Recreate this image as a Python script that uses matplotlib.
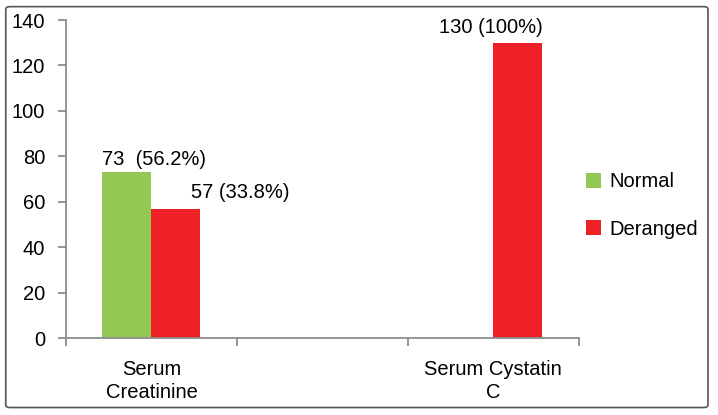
import numpy as np
import matplotlib
matplotlib.use("Agg")
import matplotlib.pyplot as plt
from matplotlib.patches import FancyBboxPatch

plt.rcParams['font.family'] = ['Liberation Sans', 'DejaVu Sans']

categories = ["Serum\nCreatinine", "", "Serum Cystatin\nC"]
normal = [73, np.nan, np.nan]
deranged = [57, np.nan, 130]
normal_labels = ["73  (56.2%)", None, None]
deranged_labels = ["57 (33.8%)", None, "130 (100%)"]
series_names = ["Normal", "Deranged"]

green = "#92C853"
red = "#EE2226"
axis_gray = "#8C8C8C"
fs = 14.5

fig = plt.figure(figsize=(7.18, 4.15), dpi=100)
ax = fig.add_axes([0.0919, 0.1855, 0.7141, 0.7663])

x = np.arange(len(categories))
w = 0.287
b1 = ax.bar(x - w / 2, normal, w, color=green, label=series_names[0])
b2 = ax.bar(x + w / 2, deranged, w, color=red, label=series_names[1])

# data labels (offsets in pixels converted to points)
px = 0.72
for i, lab in enumerate(normal_labels):
    if lab:
        ax.annotate(lab, xy=(x[i] - w, normal[i]), xytext=(0, 3 * px),
                    textcoords="offset points", ha="left", va="bottom", fontsize=fs)
for i, lab in enumerate(deranged_labels):
    if lab is None:
        continue
    if i == 0:
        ax.annotate(lab, xy=(x[i] + w, deranged[i]), xytext=(-9 * px, 7 * px),
                    textcoords="offset points", ha="left", va="bottom", fontsize=fs)
    else:
        ax.annotate(lab, xy=(x[i] + w / 2, deranged[i]), xytext=(-27 * px, 6 * px),
                    textcoords="offset points", ha="center", va="bottom", fontsize=fs)

ax.set_ylim(0, 140)
ax.set_xlim(-0.5, len(categories) - 0.5)
ax.set_yticks(np.arange(0, 141, 20))
ax.set_xticks(x)
ax.set_xticklabels(categories, linespacing=1.25)
ax.set_xticks(np.arange(-0.5, len(categories), 1), minor=True)

for s in ["top", "right"]:
    ax.spines[s].set_visible(False)
for s in ["left", "bottom"]:
    ax.spines[s].set_color(axis_gray)
    ax.spines[s].set_linewidth(1.3)

ax.tick_params(axis="y", length=6, width=1.3, color=axis_gray, pad=9, labelsize=fs)
ax.tick_params(axis="x", which="major", length=0, pad=16, labelsize=fs)
ax.tick_params(axis="x", which="minor", length=6, width=1.3, color=axis_gray)

fig.legend(handles=[b1, b2], loc="center left", bbox_to_anchor=(0.816, 0.505),
           frameon=False, fontsize=fs, handlelength=0.75, handleheight=0.75,
           handletextpad=0.4, labelspacing=1.4, borderpad=0, borderaxespad=0)

border = FancyBboxPatch((0.008, 0.018), 0.978, 0.966, transform=fig.transFigure,
                        boxstyle="round,pad=0,rounding_size=0.006",
                        fill=False, edgecolor="#555555", linewidth=1.2)
fig.patches.append(border)

fig.savefig("out.png", dpi=100)
